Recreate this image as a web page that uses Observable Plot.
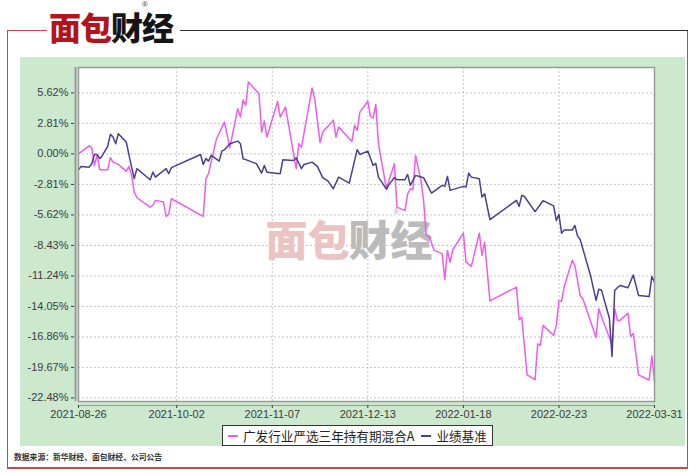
<!DOCTYPE html>
<html>
<head>
<meta charset="utf-8">
<script src="https://cdn.jsdelivr.net/npm/d3@7"></script>
<script src="https://cdn.jsdelivr.net/npm/@observablehq/plot@0.6"></script>
<style>
  html, body { margin: 0; padding: 0; background: #fff; }
  #page { position: relative; width: 700px; height: 475px; background: #fff; overflow: hidden; font-family: "Noto Sans CJK SC", "Liberation Sans", sans-serif; }
  .ln { position: absolute; }
  #chart { position: absolute; left: 20px; top: 57px; }
  #logo { position: absolute; left: 49px; top: 14px; font-family: "Liberation Sans", "Noto Sans CJK SC", sans-serif; font-size: 32px; line-height: 30px; font-weight: 900; letter-spacing: -1px; white-space: nowrap; }
  #logo .r { color: #b3141c; }
  #logo .k { color: #151515; }
  #reg { position: absolute; left: 142px; top: 0px; font-size: 8px; line-height: 9px; color: #444; font-family: "Liberation Sans", sans-serif; }
  #legend { position: absolute; left: 222px; top: 425px; height: 19px; padding: 0 3px 0 0; background: #fff; border: 1px solid #333; display: flex; align-items: center; font-size: 12.6px; color: #222; white-space: nowrap; }
  #legend .sw { display: inline-block; width: 10px; height: 2px; margin: 0 5px 0 5px; }
  #legend .sw + span { margin-right: 2px; }
  #source { position: absolute; left: 14px; top: 451px; font-size: 7.8px; font-weight: bold; color: #333; white-space: nowrap; }
</style>
</head>
<body>
<div id="page">
  <div class="ln" style="left:7px;top:30px;width:0;height:439px;border-left:1.5px solid #c8474a;"></div>
  <div class="ln" style="left:687px;top:30px;width:0;height:439px;border-left:1.5px solid #c8474a;"></div>
  <div class="ln" style="left:7px;top:467px;width:681px;height:0;border-top:2px solid #c8474a;"></div>
  <div class="ln" style="left:7px;top:30px;width:40px;height:0;border-top:1.5px solid #c8474a;"></div>
  <div class="ln" style="left:180px;top:30px;width:508px;height:0;border-top:1.2px solid #2a2a2a;"></div>
  <div id="logo"><span class="r">面包</span><span class="k">财经</span></div>
  <div id="reg">®</div>
  <div id="chart"></div>
  <div id="legend"></div>
  <div id="source">数据来源：新华财经、面包财经、公司公告</div>
</div>
<script>
// ---- data (cumulative return, %) ----
const seriesNames = ["广发行业严选三年持有期混合A", "业绩基准"];
const seriesColors = ["#ee5cee", "#4a3f8c"];

const fundDates = [
  "2021-08-26","2021-08-30","2021-08-31",
  "2021-09-01","2021-09-02","2021-09-03","2021-09-06","2021-09-07","2021-09-08","2021-09-10","2021-09-13","2021-09-14","2021-09-15","2021-09-16","2021-09-17","2021-09-22","2021-09-23","2021-09-24","2021-09-27","2021-09-28","2021-09-29","2021-09-30",
  "2021-10-12","2021-10-13","2021-10-14","2021-10-17","2021-10-20","2021-10-22","2021-10-25","2021-10-26","2021-10-27","2021-10-28","2021-10-29",
  "2021-11-02","2021-11-03","2021-11-04","2021-11-05","2021-11-09","2021-11-10","2021-11-12","2021-11-16","2021-11-17","2021-11-18","2021-11-22","2021-11-23","2021-11-25","2021-11-26","2021-11-30",
  "2021-12-01","2021-12-02","2021-12-07","2021-12-08","2021-12-09","2021-12-10","2021-12-13","2021-12-14","2021-12-15","2021-12-16","2021-12-17","2021-12-20","2021-12-23","2021-12-24","2021-12-27","2021-12-28","2021-12-29","2021-12-30","2021-12-31",
  "2022-01-02","2022-01-03","2022-01-04","2022-01-05","2022-01-07","2022-01-10","2022-01-11","2022-01-12","2022-01-13","2022-01-14","2022-01-18","2022-01-19","2022-01-21","2022-01-24","2022-01-25","2022-01-26","2022-01-28",
  "2022-02-07","2022-02-08","2022-02-09","2022-02-11","2022-02-14","2022-02-15","2022-02-16","2022-02-17","2022-02-21","2022-02-22","2022-02-23","2022-02-24","2022-02-25","2022-02-28",
  "2022-03-01","2022-03-03","2022-03-04","2022-03-09","2022-03-10","2022-03-11","2022-03-15","2022-03-16","2022-03-17","2022-03-18","2022-03-21","2022-03-22","2022-03-23","2022-03-25","2022-03-29","2022-03-30","2022-03-31"
];
const fundValues = [
  0.00, 0.74, 0.57,
  -1.06, -0.14, -1.46, -1.46, -0.35, -0.76, -0.97, -1.61, -1.15, -1.98, -3.52, -4.04, -4.90, -4.74, -4.28, -4.44, -5.76, -5.57, -4.13,
  -5.76, -2.28, -1.82, 1.40, 2.93, 0.57, 4.16, 3.39, 4.99, 4.47, 6.63,
  5.55, 2.01, 3.04, 1.55, 4.84, 3.39, 4.31, -1.36, 0.94, 0.60, 6.08, 5.09, 1.04, 2.01, 3.11,
  1.55, 2.47, 1.15, 2.63, 2.17, 3.85, 4.85, 3.45, 3.32, 4.56, 0.94, -3.21, -0.90, -4.90, -5.23, -3.67, -3.21, -3.30, -0.14,
  -2.44, -4.28, -7.51, -7.51, -8.89, -9.19, -11.56, -8.89, -9.97, -8.83, -7.30, -9.97, -10.36, -7.30, -9.35, -8.13, -13.54,
  -12.27, -15.29, -15.04, -20.36, -20.80, -17.50, -17.64, -15.80, -16.72, -15.80, -13.54, -13.59, -12.21, -9.81,
  -10.27, -13.04, -13.34, -16.91, -14.26, -14.97, -17.55, -14.26, -15.34, -15.34, -14.67, -16.81, -16.54, -20.36, -20.83, -18.61, -20.96
];

const benchDates = [
  "2021-08-26","2021-08-27","2021-08-30","2021-08-31",
  "2021-09-01","2021-09-02","2021-09-03","2021-09-04","2021-09-06","2021-09-07","2021-09-08","2021-09-09","2021-09-10","2021-09-13","2021-09-15","2021-09-16","2021-09-17","2021-09-22","2021-09-23","2021-09-24","2021-09-28","2021-09-29","2021-09-30",
  "2021-10-11","2021-10-12","2021-10-13","2021-10-14","2021-10-15","2021-10-18","2021-10-19","2021-10-20","2021-10-22","2021-10-25","2021-10-26","2021-10-27","2021-10-28",
  "2021-11-01","2021-11-03","2021-11-04","2021-11-05","2021-11-10","2021-11-11","2021-11-15","2021-11-16","2021-11-18","2021-11-19","2021-11-22","2021-11-24","2021-11-26","2021-11-28","2021-11-30",
  "2021-12-02","2021-12-06","2021-12-09","2021-12-10","2021-12-13","2021-12-15","2021-12-16","2021-12-17","2021-12-20","2021-12-21","2021-12-23","2021-12-24","2021-12-27","2021-12-28","2021-12-29","2021-12-31",
  "2022-01-03","2022-01-06","2022-01-10","2022-01-11","2022-01-12","2022-01-13","2022-01-18","2022-01-19","2022-01-20","2022-01-21","2022-01-24","2022-01-25","2022-01-26","2022-01-28",
  "2022-02-07","2022-02-08","2022-02-09","2022-02-10","2022-02-14","2022-02-17","2022-02-21","2022-02-22","2022-02-23","2022-02-24","2022-02-25","2022-02-28",
  "2022-03-01","2022-03-02","2022-03-03","2022-03-07","2022-03-09","2022-03-10","2022-03-11","2022-03-14","2022-03-15","2022-03-16","2022-03-17","2022-03-18","2022-03-21","2022-03-23","2022-03-25","2022-03-29","2022-03-30","2022-03-31"
];
const benchValues = [
  -1.46, -1.15, -1.22, -0.90,
  -0.05, -0.05, -0.44, -0.14, 0.69, 1.80, 1.55, 0.94, 1.86, 1.09, -1.22, -2.28, -1.36, -2.38, -1.68, -2.14, -1.36, -1.82, -1.27,
  -0.05, -0.97, -0.44, -0.66, -0.14, -0.66, 0.26, 0.39, 0.94, 1.18, 0.94, -0.44, -0.53,
  -0.90, -1.77, -1.06, -1.68, -1.82, -0.53, -0.60, -0.35, -1.36, -0.97, -0.76, -1.15, -2.19, -2.51, -3.21,
  -2.14, -2.69, 0.39, -0.05, 0.26, -1.06, -0.88, -2.14, -3.25, -2.81, -2.19, -2.38, -2.38, -1.89, -2.90, -1.98,
  -2.19, -3.61, -2.90, -2.99, -2.07, -3.36, -2.99, -3.04, -1.77, -2.14, -2.28, -3.98, -3.67, -6.06,
  -4.28, -4.84, -3.82, -3.92, -5.32, -4.31, -4.79, -6.13, -5.57, -7.32, -7.00, -7.02,
  -6.59, -7.55, -7.88, -11.30, -13.50, -12.47, -12.53, -15.14, -18.66, -12.58, -12.33, -12.12, -12.33, -11.15, -13.04, -13.13, -11.29, -11.81
];

const xTickDates = ["2021-08-26","2021-10-02","2021-11-07","2021-12-13","2022-01-18","2022-02-23","2022-03-31"];
const yTickValues = [5.62, 2.81, 0.00, -2.81, -5.62, -8.43, -11.24, -14.05, -16.86, -19.67, -22.48];
const xDomain = ["2021-08-26", "2022-03-31"];
const yDomain = [-22.81, 7.96];

// ---- build ----
const parse = s => new Date(s + "T00:00:00Z");
const rows = [
  ...fundDates.map((d, i) => ({date: parse(d), value: fundValues[i], series: seriesNames[0]})),
  ...benchDates.map((d, i) => ({date: parse(d), value: benchValues[i], series: seriesNames[1]}))
];
const xTicks = xTickDates.map(parse);
const fmtDate = d3.utcFormat("%Y-%m-%d");
const wmFont = "'Liberation Sans', 'Noto Sans CJK SC', sans-serif";

const chart = Plot.plot({
  width: 665,
  height: 389,
  marginLeft: 58,
  marginRight: 31,
  marginTop: 10,
  marginBottom: 45,
  style: { background: "#cce8cd", fontFamily: "'Liberation Sans', Arial, sans-serif", fontSize: "11px", overflow: "visible" },
  x: { type: "utc", domain: xDomain.map(parse), label: null },
  y: { domain: yDomain, label: null },
  color: { domain: seriesNames, range: seriesColors },
  marks: [
    Plot.frame({ fill: "white" }),
    Plot.gridY({ ticks: yTickValues, stroke: "#c4c4c4", strokeOpacity: 1, strokeDasharray: "2,2" }),
    Plot.gridX({ ticks: xTicks, stroke: "#c4c4c4", strokeOpacity: 1, strokeDasharray: "2,2" }),
    Plot.text(["面包"], { text: d => d, frameAnchor: "middle", dx: -59, dy: 8, fontSize: 42, fontWeight: 900, fill: "#ecc3c3", fontFamily: wmFont }),
    Plot.text(["财经"], { text: d => d, frameAnchor: "middle", dx: 24, dy: 8, fontSize: 42, fontWeight: 900, fill: "#bbbbbb", fontFamily: wmFont }),
    Plot.text(["®"], { text: d => d, frameAnchor: "middle", dx: 30, dy: -23, fontSize: 8, fill: "#aaaaaa" }),
    Plot.lineY(rows, { x: "date", y: "value", z: "series", stroke: "series", strokeWidth: 1.5 }),
    Plot.frame({ stroke: "#9a9a9a", strokeWidth: 1.5 }),
    Plot.ruleX([parse(xDomain[0])], { dx: -3, stroke: "#9a9a9a", strokeWidth: 2 }),
    Plot.ruleY([yDomain[0]], { dy: 4, stroke: "#9a9a9a", strokeWidth: 1.2 }),
    Plot.axisY({ ticks: yTickValues, tickFormat: d => d.toFixed(2) + "%", tickSize: 3, tickPadding: 3, dx: -4, color: "#3c3c3c", fontSize: 11, label: null }),
    Plot.axisX({ ticks: xTicks, tickFormat: fmtDate, tickSize: 3, tickPadding: 2, dy: 4, color: "#3c3c3c", fontSize: 11, label: null })
  ]
});
document.getElementById("chart").appendChild(chart);

// ---- legend ----
const legend = document.getElementById("legend");
seriesNames.forEach((name, i) => {
  const sw = document.createElement("span");
  sw.className = "sw";
  sw.style.background = seriesColors[i];
  const tx = document.createElement("span");
  tx.textContent = name;
  legend.appendChild(sw);
  legend.appendChild(tx);
});
</script>
</body>
</html>
